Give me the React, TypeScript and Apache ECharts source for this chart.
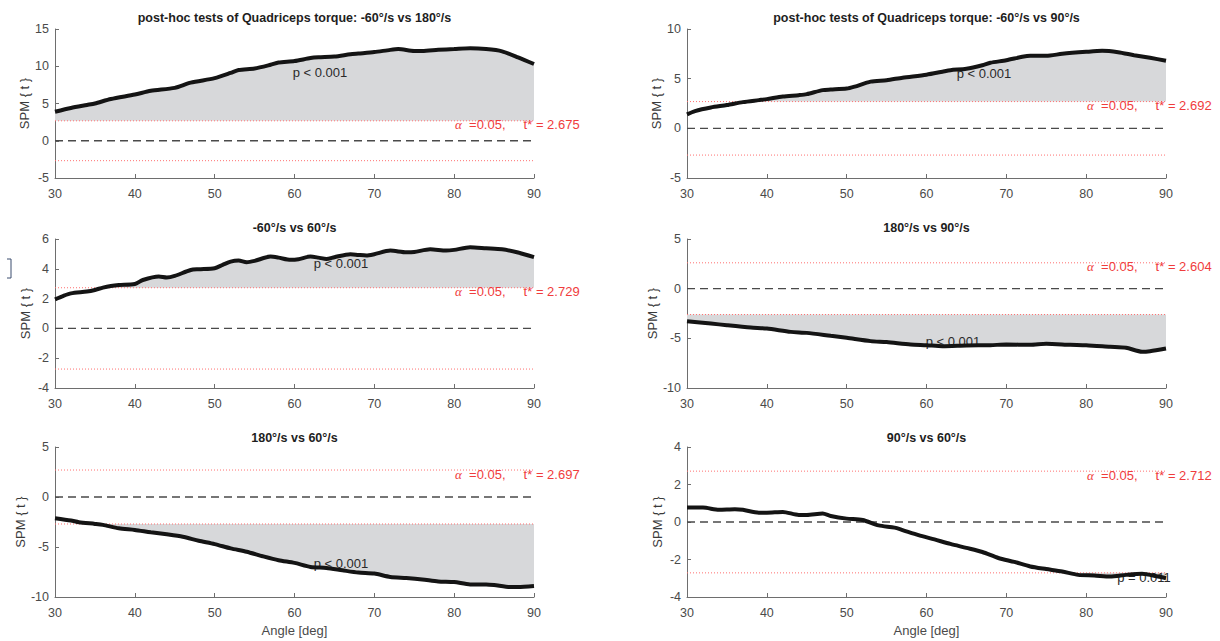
import React, { useEffect, useRef } from "react";
import * as echarts from "echarts";

// ---------- data ----------
const TITLES = [
  "post-hoc tests of Quadriceps torque: -60°/s vs 180°/s",
  "post-hoc tests of Quadriceps torque: -60°/s vs 90°/s",
  "-60°/s vs 60°/s",
  "180°/s vs 90°/s",
  "180°/s vs 60°/s",
  "90°/s vs 60°/s",
];
const T_CRIT = [2.675, 2.692, 2.729, 2.604, 2.697, 2.712];
const P_TEXT = ["p < 0.001", "p < 0.001", "p < 0.001", "p < 0.001", "p < 0.001", "p = 0.011"];
const CLUSTER_SIGN = [1, 1, 1, -1, -1, -1];
const Y_MIN = [-5, -5, -4, -10, -10, -4];
const Y_MAX = [15, 10, 6, 5, 5, 4];
const Y_STEP = [5, 5, 2, 5, 5, 2];
const X_MIN = 30;
const X_MAX = 90;
const X_STEP = 10;

const P1_ANGLE = [30, 32, 34, 35, 37, 40, 42, 45, 47, 50, 52, 53, 55, 57, 58, 60, 62, 63, 65, 67, 68, 70, 72, 73, 75, 76, 78, 80, 82, 84, 86, 88, 90];
const P1_T = [3.9, 4.4, 4.8, 5.0, 5.6, 6.2, 6.7, 7.1, 7.8, 8.4, 9.1, 9.5, 9.7, 10.2, 10.5, 10.7, 11.1, 11.2, 11.3, 11.6, 11.7, 11.9, 12.2, 12.3, 12.05, 12.05, 12.2, 12.3, 12.4, 12.3, 12.0, 11.2, 10.3];

const P2_ANGLE = [30, 31, 33, 35, 37, 39, 40, 42, 44, 45, 47, 48, 50, 51, 53, 55, 57, 60, 62, 63, 65, 67, 68, 70, 72, 73, 75, 77, 80, 82, 84, 86, 88, 90];
const P2_T = [1.4, 1.74, 2.1, 2.34, 2.64, 2.84, 2.94, 3.2, 3.34, 3.44, 3.85, 3.9, 4.0, 4.2, 4.7, 4.85, 5.1, 5.4, 5.7, 5.85, 6.0, 6.35, 6.6, 6.85, 7.2, 7.3, 7.3, 7.5, 7.7, 7.8, 7.66, 7.36, 7.1, 6.8];

const P3_ANGLE = [30, 31, 32, 34, 35, 36, 37, 38, 40, 41, 43, 44, 45, 47, 48, 50, 51, 52, 53, 54, 55, 57, 58, 59.5, 60.5, 62, 63, 64, 65, 67, 68, 69, 70, 72, 74, 75, 77, 79, 80, 82, 84, 86, 88, 90];
const P3_T = [1.95, 2.17, 2.35, 2.47, 2.58, 2.74, 2.85, 2.91, 2.98, 3.25, 3.48, 3.41, 3.52, 3.92, 3.97, 4.04, 4.26, 4.48, 4.55, 4.44, 4.53, 4.82, 4.75, 4.6, 4.64, 4.82, 4.75, 4.66, 4.78, 4.98, 4.93, 4.89, 4.98, 5.22, 5.11, 5.13, 5.31, 5.22, 5.27, 5.45, 5.38, 5.31, 5.09, 4.78];

const P4_ANGLE = [30, 33, 35, 38, 40, 43, 45, 48, 50, 53, 55, 58, 60, 62, 65, 68, 70, 73, 75, 78, 80, 83, 85, 87, 88, 90];
const P4_T = [-3.28, -3.51, -3.68, -3.91, -4.01, -4.35, -4.45, -4.75, -4.95, -5.28, -5.38, -5.62, -5.69, -5.79, -5.72, -5.69, -5.62, -5.65, -5.55, -5.65, -5.69, -5.85, -5.95, -6.35, -6.29, -6.02];

const P5_ANGLE = [30, 32, 33, 35, 36, 38, 40, 42, 44, 46, 48, 50, 52, 54, 56, 58, 60, 62, 64, 66, 68, 70, 72, 74, 76, 78, 80, 82, 84, 85, 87, 88, 90];
const P5_T = [-2.12, -2.35, -2.52, -2.69, -2.79, -3.13, -3.29, -3.53, -3.73, -3.97, -4.37, -4.71, -5.14, -5.48, -5.92, -6.32, -6.59, -6.99, -7.09, -7.33, -7.56, -7.66, -8.0, -8.1, -8.24, -8.44, -8.5, -8.74, -8.74, -8.8, -9.0, -9.0, -8.9];

const P6_ANGLE = [30, 32, 34, 36, 37, 39, 40, 42, 44, 45, 47, 48, 50, 52, 54, 56, 57, 59, 61, 63, 65, 67, 69, 71, 73, 75, 77, 79, 81, 83, 85, 87, 89, 90];
const P6_T = [0.77, 0.77, 0.65, 0.68, 0.65, 0.5, 0.5, 0.54, 0.38, 0.38, 0.45, 0.32, 0.18, 0.11, -0.18, -0.3, -0.43, -0.7, -0.93, -1.17, -1.38, -1.6, -1.92, -2.13, -2.37, -2.51, -2.64, -2.82, -2.85, -2.91, -2.82, -2.76, -2.91, -3.0];

const ANGLES = [P1_ANGLE, P2_ANGLE, P3_ANGLE, P4_ANGLE, P5_ANGLE, P6_ANGLE];
const TVALS = [P1_T, P2_T, P3_T, P4_T, P5_T, P6_T];

// ---------- layout (pixels) ----------
const GRID_LEFT = [55, 687, 55, 687, 55, 687];
const GRID_TOP = [29, 29, 239, 239, 447, 447];
const GRID_H = [149, 149, 149, 149, 150, 150];
const GRID_W = 479;
const TITLE_Y = [18, 18, 228, 228, 438, 438];
const PLABEL_POS = [
  [320, 72],
  [984, 73],
  [341, 263],
  [953, 341],
  [341, 563],
  [1144, 577],
];

const FONT = "'Liberation Sans', Arial, Helvetica, sans-serif";
const AXIS_COLOR = "#6e6e6e";
const LABEL_COLOR = "#4a4a4a";
const RED = "#f03c3c";

function buildOption() {
  const grid: any[] = [];
  const xAxis: any[] = [];
  const yAxis: any[] = [];
  const series: any[] = [];
  const graphic: any[] = [];

  for (let i = 0; i < 6; i++) {
    grid.push({ left: GRID_LEFT[i], top: GRID_TOP[i], width: GRID_W, height: GRID_H[i], containLabel: false });
    xAxis.push({
      gridIndex: i,
      type: "value",
      min: X_MIN,
      max: X_MAX,
      interval: X_STEP,
      axisLine: { show: true, onZero: false, lineStyle: { color: AXIS_COLOR, width: 1 } },
      axisTick: { show: true, inside: true, length: 4, lineStyle: { color: AXIS_COLOR } },
      axisLabel: { color: LABEL_COLOR, fontSize: 12.5, margin: 9, fontFamily: FONT },
      splitLine: { show: false },
      name: i >= 4 ? "Angle [deg]" : "",
      nameLocation: "middle",
      nameGap: 27,
      nameTextStyle: { color: LABEL_COLOR, fontSize: 13, fontFamily: FONT },
    });
    yAxis.push({
      gridIndex: i,
      type: "value",
      min: Y_MIN[i],
      max: Y_MAX[i],
      interval: Y_STEP[i],
      axisLine: { show: true, onZero: false, lineStyle: { color: AXIS_COLOR, width: 1 } },
      axisTick: { show: true, inside: true, length: 4, lineStyle: { color: AXIS_COLOR } },
      axisLabel: { color: LABEL_COLOR, fontSize: 12.5, margin: 6, fontFamily: FONT },
      splitLine: { show: false },
      name: "SPM { t }",
      nameLocation: "middle",
      nameGap: 23,
      nameTextStyle: { color: "#3a3a3a", fontSize: 13, fontFamily: FONT },
    });

    const t = T_CRIT[i];
    const sgn = CLUSTER_SIGN[i];
    const ang = ANGLES[i];
    const vals = TVALS[i];

    // supra-threshold cluster area
    series.push({
      type: "line",
      xAxisIndex: i,
      yAxisIndex: i,
      data: ang.map((a, k) => [a, sgn > 0 ? Math.max(vals[k], t) : Math.min(vals[k], -t)]),
      symbol: "none",
      smooth: 0.25,
      lineStyle: { width: 0, opacity: 0 },
      areaStyle: { color: "#d7d8da", opacity: 1, origin: sgn * t },
      silent: true,
      z: 1,
    });
    // threshold lines
    [t, -t].forEach((th) => {
      series.push({
        type: "line",
        xAxisIndex: i,
        yAxisIndex: i,
        data: [
          [X_MIN, th],
          [X_MAX, th],
        ],
        symbol: "none",
        lineStyle: { color: "#ff7070", width: 1, type: [1, 2] },
        silent: true,
        z: 2,
      });
    });
    // zero line
    series.push({
      type: "line",
      xAxisIndex: i,
      yAxisIndex: i,
      data: [
        [X_MIN, 0],
        [X_MAX, 0],
      ],
      symbol: "none",
      lineStyle: { color: "#4a4a4a", width: 1.4, type: [8, 5] },
      silent: true,
      z: 2,
    });
    // SPM curve
    series.push({
      type: "line",
      xAxisIndex: i,
      yAxisIndex: i,
      data: ang.map((a, k) => [a, vals[k]]),
      symbol: "none",
      smooth: 0.25,
      lineStyle: { color: "#141414", width: 4 },
      silent: true,
      z: 5,
    });

    // title
    graphic.push({
      type: "text",
      x: GRID_LEFT[i] + GRID_W / 2,
      y: TITLE_Y[i],
      style: {
        text: TITLES[i],
        fill: "#1e1e1e",
        font: `bold 12.5px ${FONT}`,
        textAlign: "center",
        textVerticalAlign: "middle",
      },
      z: 10,
    });
    // p-value label
    graphic.push({
      type: "text",
      x: PLABEL_POS[i][0],
      y: PLABEL_POS[i][1],
      style: {
        text: P_TEXT[i],
        fill: "#2a2a2a",
        font: `13px ${FONT}`,
        textAlign: "center",
        textVerticalAlign: "middle",
      },
      z: 3,
    });
    // alpha / t* label
    const thY = GRID_TOP[i] + ((Y_MAX[i] - t) / (Y_MAX[i] - Y_MIN[i])) * GRID_H[i];
    graphic.push({
      type: "text",
      x: GRID_LEFT[i] + GRID_W - 79,
      y: thY + 4,
      style: {
        text: `{a|α}  =0.05,     t* = ${t.toFixed(3)}`,
        fill: RED,
        font: `13px ${FONT}`,
        textAlign: "left",
        textVerticalAlign: "middle",
        rich: {
          a: { fill: RED, font: `italic 13px 'Liberation Serif', 'DejaVu Serif', serif` },
        },
      },
      z: 10,
    });
  }

  // small bracket artefact at left of the middle row
  graphic.push({
    type: "polyline",
    shape: {
      points: [
        [7, 259],
        [11, 259],
        [11, 278],
        [7, 278],
      ],
    },
    style: { stroke: "#3b4c6e", lineWidth: 1, fill: "none" },
    z: 10,
  });

  return {
    animation: false,
    backgroundColor: "#ffffff",
    textStyle: { fontFamily: FONT },
    grid,
    xAxis,
    yAxis,
    series,
    graphic,
  };
}

export default function App() {
  const ref = useRef<HTMLDivElement>(null);
  useEffect(() => {
    if (!ref.current) return;
    const chart = echarts.init(ref.current, undefined, { renderer: "svg" });
    chart.setOption(buildOption() as any);
    return () => {
      chart.dispose();
    };
  }, []);
  return (
    <div
      ref={ref}
      style={{ position: "fixed", left: 0, top: 0, width: 1220, height: 641, background: "#fff" }}
    />
  );
}
